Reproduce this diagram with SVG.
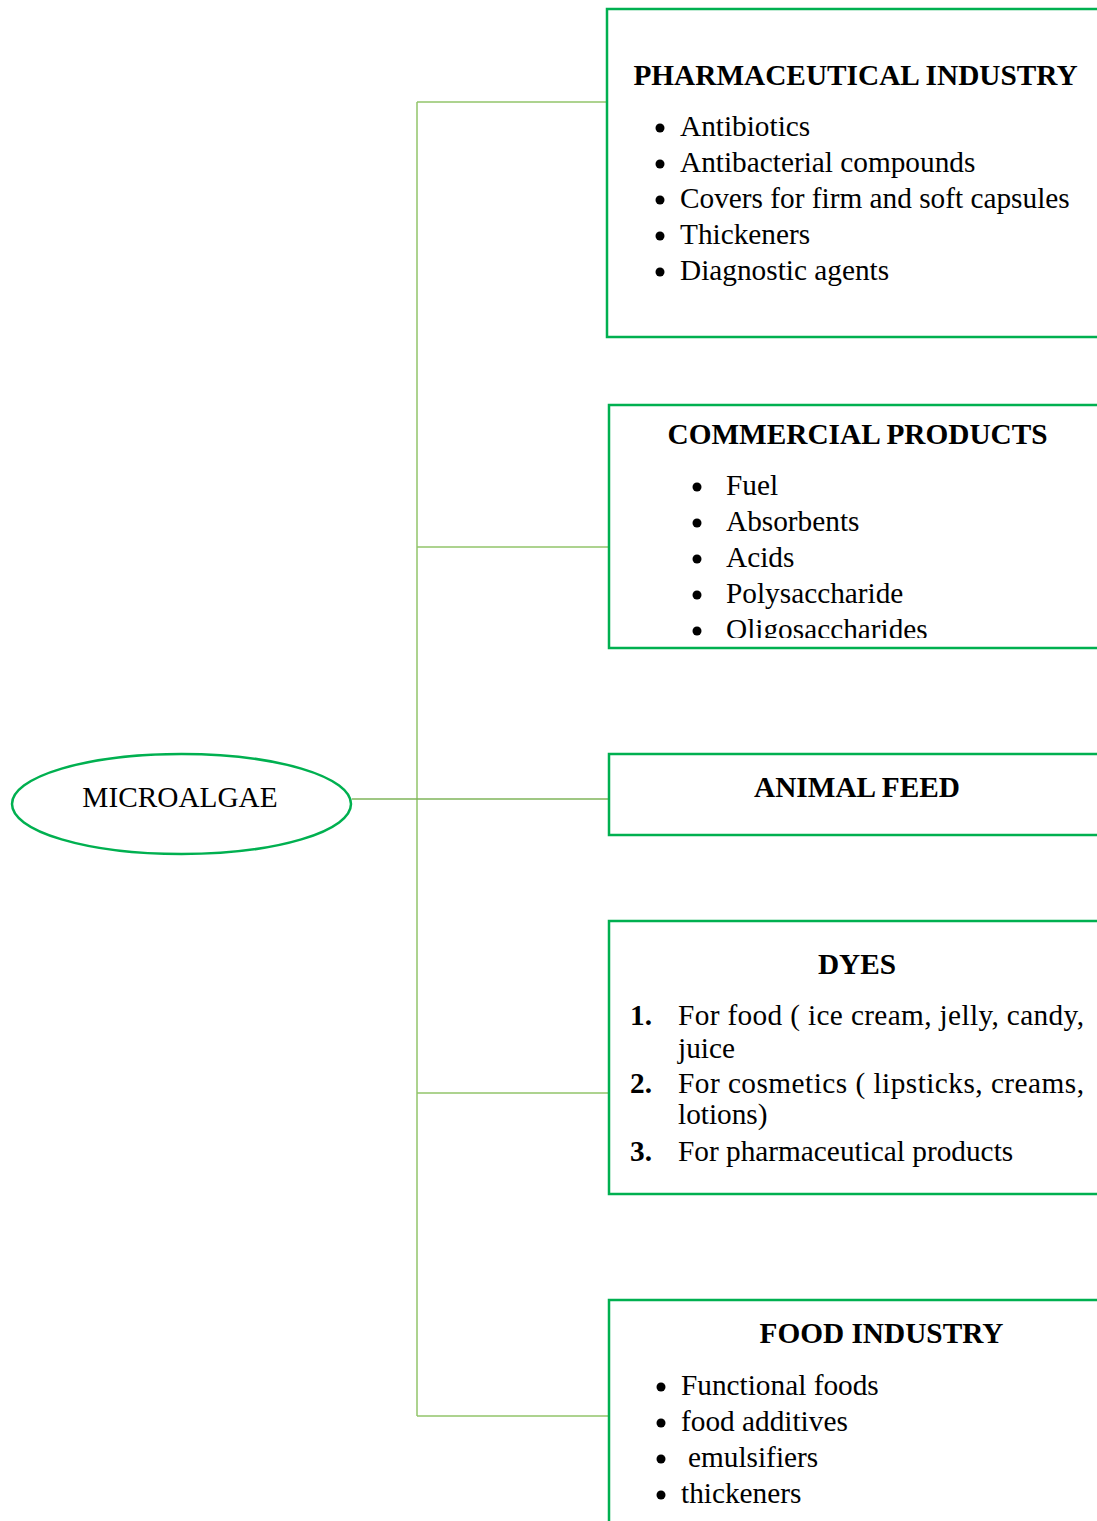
<svg xmlns="http://www.w3.org/2000/svg" width="1097" height="1521" viewBox="0 0 1097 1521">
<style>
.box{fill:#fff;stroke:#00b050;stroke-width:2.5}
.con{stroke:#92c46a;stroke-width:1.5;fill:none}
text{font-family:'Liberation Serif','Times New Roman',serif;font-size:29.3px;fill:#000}
.t{font-weight:bold;text-anchor:middle}
.n{font-weight:bold}
.dot{fill:#000}
</style>
<defs>
<clipPath id="c2"><rect x="609" y="405" width="488" height="233"/></clipPath>
</defs>
<rect width="1097" height="1521" fill="#fff"/>
<g id="connectors">
<line class="con" x1="417" y1="102" x2="417" y2="1416"/>
<line class="con" x1="417" y1="102" x2="607" y2="102"/>
<line class="con" x1="417" y1="547" x2="609" y2="547"/>
<line class="con" x1="352" y1="799" x2="609" y2="799" style="stroke:#7fb55a"/>
<line class="con" x1="417" y1="1093" x2="609" y2="1093"/>
<line class="con" x1="417" y1="1416" x2="609" y2="1416"/>
</g>
<g id="microalgae">
<ellipse cx="181.500" cy="804" rx="169.500" ry="50" fill="#fff" stroke="#00b050" stroke-width="2.5"/>
<text x="180" y="807" text-anchor="middle">MICROALGAE</text>
</g>
<g id="pharmaceutical">
<rect class="box" x="607" y="9" width="500" height="328"/>
<text x="855.500" y="85" class="t">PHARMACEUTICAL INDUSTRY</text>
<circle class="dot" cx="660" cy="128" r="4.500"/><text x="680" y="136">Antibiotics</text>
<circle class="dot" cx="660" cy="164" r="4.500"/><text x="680" y="172">Antibacterial compounds</text>
<circle class="dot" cx="660" cy="200" r="4.500"/><text x="680" y="208">Covers for firm and soft capsules</text>
<circle class="dot" cx="660" cy="236" r="4.500"/><text x="680" y="244">Thickeners</text>
<circle class="dot" cx="660" cy="272" r="4.500"/><text x="680" y="280">Diagnostic agents</text>
</g>
<g id="commercial">
<rect class="box" x="609" y="405" width="500" height="243"/>
<text x="857.500" y="444" class="t">COMMERCIAL PRODUCTS</text>
<g clip-path="url(#c2)">
<circle class="dot" cx="697" cy="487" r="4.500"/><text x="726" y="495">Fuel</text>
<circle class="dot" cx="697" cy="523" r="4.500"/><text x="726" y="531">Absorbents</text>
<circle class="dot" cx="697" cy="559" r="4.500"/><text x="726" y="567">Acids</text>
<circle class="dot" cx="697" cy="595" r="4.500"/><text x="726" y="603">Polysaccharide</text>
<circle class="dot" cx="697" cy="631" r="4.500"/><text x="726" y="639">Oligosaccharides</text>
</g>
</g>
<g id="animalfeed">
<rect class="box" x="609" y="754" width="500" height="81"/>
<text x="857" y="797" class="t">ANIMAL FEED</text>
</g>
<g id="dyes">
<rect class="box" x="609" y="921" width="500" height="273"/>
<text x="857" y="974" class="t">DYES</text>
<text x="630" y="1025" class="n">1.</text><text x="678" y="1025" textLength="406" lengthAdjust="spacing">For food ( ice cream, jelly, candy,</text>
<text x="678" y="1058">juice</text>
<text x="630" y="1093" class="n">2.</text><text x="678" y="1093" textLength="406" lengthAdjust="spacing">For cosmetics ( lipsticks, creams,</text>
<text x="678" y="1124">lotions)</text>
<text x="630" y="1161" class="n">3.</text><text x="678" y="1161">For pharmaceutical products</text>
</g>
<g id="food">
<rect class="box" x="609" y="1300" width="500" height="240"/>
<text x="881.500" y="1343" class="t">FOOD INDUSTRY</text>
<circle class="dot" cx="661" cy="1387" r="4.500"/><text x="681" y="1395">Functional foods</text>
<circle class="dot" cx="661" cy="1423" r="4.500"/><text x="681" y="1431">food additives</text>
<circle class="dot" cx="661" cy="1459" r="4.500"/><text x="688" y="1467">emulsifiers</text>
<circle class="dot" cx="661" cy="1495" r="4.500"/><text x="681" y="1503">thickeners</text>
</g>
</svg>
